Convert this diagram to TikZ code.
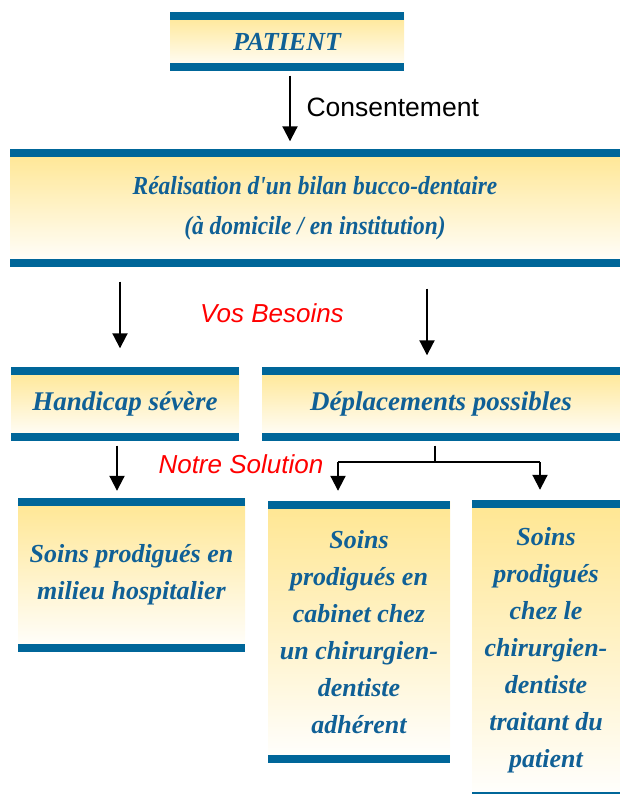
\documentclass[tikz,border=0pt]{standalone}
\usepackage{fontspec}
\setmainfont{Liberation Serif}
\setsansfont{Liberation Sans}
\newfontfamily\narrowserif[FakeStretch=0.90]{Liberation Serif}
\usetikzlibrary{arrows.meta}
\definecolor{barblue}{RGB}{0,102,153}
\definecolor{textblue}{RGB}{16,96,150}
\definecolor{paleyellow}{RGB}{255,230,145}
\tikzset{
  box/.style={inner sep=0pt, top color=paleyellow, bottom color=white, text=textblue, align=center, font=\fontsize{26}{37}\selectfont\bfseries\itshape},
  bar/.style={fill=barblue},
  arrow/.style={line width=2pt, -{Triangle[width=15pt,length=15pt]}},
  fork/.style={line width=1.5pt},
  note/.style={font=\fontsize{26}{30}\selectfont\sffamily},
}
\begin{document}
\begin{tikzpicture}[x=1pt,y=-1pt]
\useasboundingbox (0,0) rectangle (620,794);
\clip (0,0) rectangle (620,794);
% boxes
\node[box, minimum width=234pt, minimum height=58pt] (patient) at (287,41.5) {PATIENT};
\node[box, minimum width=610pt, minimum height=117pt, font=\fontsize{26}{40}\selectfont\narrowserif\bfseries\itshape] (bilan) at (315,208) {R\'ealisation d'un bilan bucco-dentaire\\(\`a domicile / en institution)};
\node[box, minimum width=228pt, minimum height=73pt, font=\fontsize{27}{37}\selectfont\bfseries\itshape] (handicap) at (125,404) {Handicap s\'ev\`ere};
\node[box, minimum width=358pt, minimum height=73pt, font=\fontsize{27}{37}\selectfont\bfseries\itshape] (deplacements) at (441,404) {D\'eplacements possibles};
\node[box, minimum width=227pt, minimum height=154pt] (hospital) at (131.5,575) {Soins prodigu\'es en\\milieu hospitalier};
\node[box, minimum width=182pt, minimum height=262pt] (cabinet) at (359,632) {Soins\\prodigu\'es en\\cabinet chez\\un chirurgien-\\dentiste\\adh\'erent};
\node[box, minimum width=148pt, minimum height=300pt] (traitant) at (546,650) {Soins\\prodigu\'es\\chez le\\chirurgien-\\dentiste\\traitant du\\patient};
\foreach \b in {patient,bilan,handicap,deplacements,hospital,cabinet,traitant} {
  \fill[bar] (\b.north west) rectangle ([yshift=-8pt]\b.north east);
  \fill[bar] (\b.south west) rectangle ([yshift=8pt]\b.south east);
}
% labels
\node[note, anchor=west, font=\fontsize{26.5}{30}\selectfont\sffamily] (consent) at (303,107) {Consentement};
\node[note, text=red, font=\fontsize{26}{30}\selectfont\sffamily\itshape] (besoins) at (272,313) {Vos Besoins};
\node[note, anchor=west, text=red, font=\fontsize{26}{30}\selectfont\sffamily\itshape] (solution) at (155,464) {Notre Solution};
% connectors
\draw[arrow, shorten <=5pt, shorten >=8pt] ([xshift=3pt]patient.south) -- ([xshift=3pt]patient.south |- bilan.north);
\draw[arrow, shorten <=15pt, shorten >=19pt] ([xshift=-5pt]handicap.north |- bilan.south) -- ([xshift=-5pt]handicap.north);
\draw[arrow, shorten <=22pt, shorten >=12pt] ([xshift=-14pt]deplacements.north |- bilan.south) -- ([xshift=-14pt]deplacements.north);
\draw[arrow, shorten <=5pt, shorten >=7pt] ([xshift=-8pt]handicap.south) -- ([xshift=-8pt]handicap.south |- hospital.north);
\coordinate (forkM) at (435,462);
\coordinate (forkL) at (338,462);
\coordinate (forkR) at (540,462);
\draw[fork, shorten <=5pt] (deplacements.south -| forkM) -- (forkM);
\draw[fork] (forkL) -- (forkR);
\draw[arrow, shorten >=10pt] (forkL) -- (forkL |- cabinet.north);
\draw[arrow, shorten >=10pt] (forkR) -- (forkR |- traitant.north);
\end{tikzpicture}
\end{document}
